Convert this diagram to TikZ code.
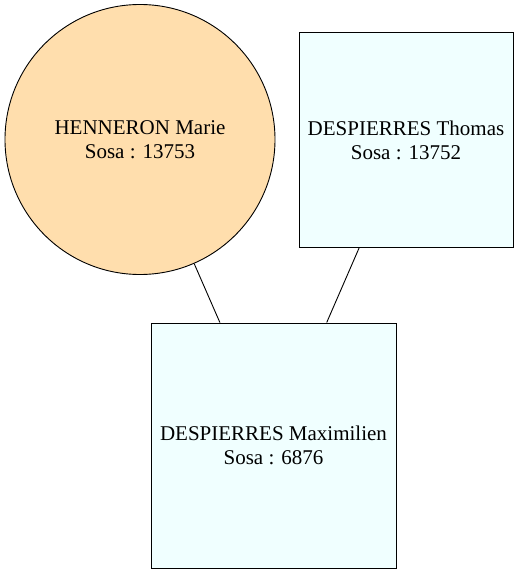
\documentclass[tikz,border=0pt]{standalone}
\usepackage{fontspec}
\setmainfont{Liberation Serif}
\usepackage{tikz}
\usetikzlibrary{positioning,shapes}
\definecolor{navajo}{RGB}{255,222,173}
\definecolor{azurefill}{RGB}{240,255,255}
\tikzset{
    femalenode/.style={
        circle,
        draw=black,
        line width=0.9pt,
        fill=navajo,
        minimum size=270pt,
        inner sep=0pt,
        align=center,
        font=\fontsize{21}{24}\selectfont
    },
    % boxes of the men
    malenode/.style={
        rectangle,
        draw=black,
        line width=0.9pt,
        fill=azurefill,
        inner sep=0pt,
        align=center,
        font=\fontsize{21}{24}\selectfont
    },
    link/.style={
        line width=0.9pt,
        black
    }
}

\begin{document}
\begin{tikzpicture}[x=1pt,y=1pt]
	\useasboundingbox (0,0) rectangle (519,574);
	% ===================== parents =====================
	\node[femalenode] (mother) at (140,434.5) {HENNERON Marie\\Sosa : 13753};
	\node[malenode, minimum width=214pt, minimum height=215pt] (father) at (406,434) {DESPIERRES Thomas\\Sosa : 13752};
	% ===================== child =====================
	\node[malenode, minimum width=245pt, minimum height=245pt] (child) at (273.5,128.5) {DESPIERRES Maximilien\\Sosa : 6876};
	% links
	\draw[link] (mother) -- (child);
	\draw[link] (father) -- (child);
\end{tikzpicture}
\end{document}
